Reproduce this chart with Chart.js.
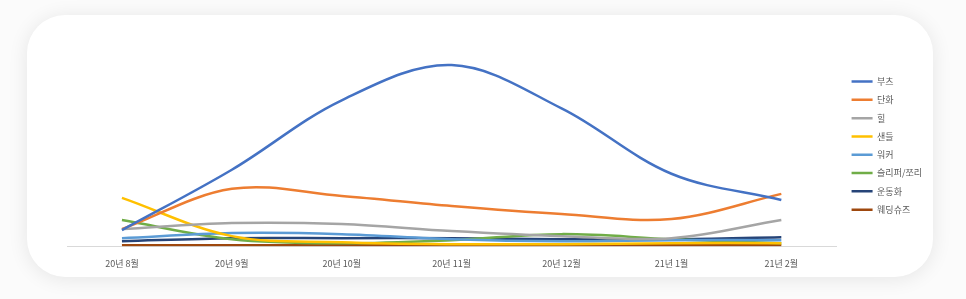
<!DOCTYPE html>
<html>
<head>
<meta charset="utf-8">
<script src="https://cdn.jsdelivr.net/npm/chart.js@4.4.0/dist/chart.umd.min.js"></script>
<style>
    html, body { margin: 0; padding: 0; background: #fbfbfb; }
    .wrap { position: relative; width: 966px; height: 299px; overflow: hidden; }
    .card {
        position: absolute; left: 27px; top: 15px; width: 906px; height: 262px;
        background: #fff; border-radius: 38px;
        box-shadow: 0 2px 20px rgba(0, 0, 0, 0.09);
    }
    #myChart { position: absolute; left: 0; top: 0; }
</style>
</head>
<body>
<div class="wrap">
    <div class="card"></div>
    <canvas id="myChart" width="966" height="299"></canvas>
</div>
<script>
// data
const months = ['20년 8월', '20년 9월', '20년 10월', '20년 11월', '20년 12월', '21년 1월', '21년 2월'];
const boots    = [16, 76, 145, 180, 137, 72, 46];
const loafers  = [17, 57, 50, 40, 32, 27, 52];
const heels    = [17, 23, 22, 15, 10, 8, 26];
const sandals  = [48, 10, 4, 2, 2, 3, 3];
const walkers  = [8, 13, 12, 7, 5, 6, 6];
const slippers = [26, 7, 3, 6, 12, 7, 3];
const sneakers = [5, 8, 8, 8, 7, 7, 9];
const wedding  = [1, 1, 1, 1, 1, 1, 1];

const seriesNames  = ['부츠', '단화', '힐', '샌들', '워커', '슬리퍼/쪼리', '운동화', '웨딩슈즈'];
const seriesValues = [boots, loafers, heels, sandals, walkers, slippers, sneakers, wedding];
const seriesColors = ['#4472C4', '#ED7D31', '#A5A5A5', '#FFC000', '#5B9BD5', '#70AD47', '#264478', '#9E480E'];

const font = '"Noto Sans CJK KR", "Noto Sans", sans-serif';

// draw order: first series on top, like the original
const datasets = seriesNames.map((name, i) => ({
    label: name,
    data: seriesValues[i],
    borderColor: seriesColors[i],
    backgroundColor: seriesColors[i],
    borderWidth: 2.5,
    pointRadius: 0,
    tension: 0.35,
    fill: false,
    order: i
}));

new Chart(document.getElementById('myChart').getContext('2d'), {
    type: 'line',
    data: { labels: months, datasets: datasets },
    options: {
        responsive: false,
        animation: false,
        layout: { padding: { left: 67, top: 45, bottom: 18, right: 34 } },
        plugins: {
            tooltip: { enabled: false },
            legend: {
                position: 'right',
                fullSize: false,
                labels: {
                    usePointStyle: true,
                    pointStyle: 'line',
                    pointStyleWidth: 21,
                    padding: 9.3,
                    color: '#595959',
                    font: { family: font, size: 9 }
                }
            }
        },
        scales: {
            x: {
                offset: true,
                grid: { display: false, drawTicks: false },
                border: { display: true, color: '#d9d9d9', width: 1 },
                ticks: { color: '#595959', padding: 12, font: { family: font, size: 9 }, maxRotation: 0 }
            },
            y: {
                position: 'right',
                min: 0,
                max: 200,
                grid: { display: false, drawTicks: false },
                border: { display: false },
                ticks: { display: false },
                afterFit: (scale) => { scale.width = 6; } // gap before legend
            }
        }
    }
});
</script>
</body>
</html>
